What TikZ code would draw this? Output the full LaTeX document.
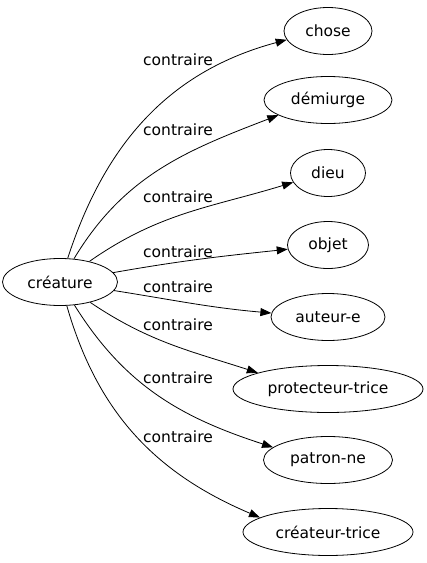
\documentclass[tikz,border=0pt]{standalone}
\usepackage{fontspec}
\setmainfont{DejaVu Sans}
\usepackage{tikz}
\usetikzlibrary{arrows.meta, shapes.geometric}

\begin{document}
\begin{tikzpicture}[
  x=1pt, y=1pt,
  mot/.style={ellipse, draw, line width=0.8pt, inner sep=0pt, minimum height=47pt, font=\fontsize{15.5}{18}\selectfont},
  lbl/.style={inner sep=0pt, font=\fontsize{15.5}{18}\selectfont},
  arrow/.style={-{Triangle[length=11pt, width=8pt]}, line width=0.8pt},
]
  \useasboundingbox (0,0) rectangle (427,-563);

  \node[mot, minimum width=115pt] (cre) at (60,-282) {créature};
  \node[mot, minimum width=88pt] (chose) at (328,-31) {chose};
  \node[mot, minimum width=128pt] (demi) at (328,-100) {démiurge};
  \node[mot, minimum width=75pt] (dieu) at (328,-173) {dieu};
  \node[mot, minimum width=81pt] (objet) at (328,-245) {objet};
  \node[mot, minimum width=114pt] (aut) at (328,-317) {auteur-e};
  \node[mot, minimum width=190pt] (prot) at (328,-389) {protecteur-trice};
  \node[mot, minimum width=129pt] (patr) at (328,-460) {patron-ne};
  \node[mot, minimum width=170pt] (creat) at (328,-532) {créateur-trice};

  % etiquettes des aretes
  \node[lbl] (l1) at (178,-60) {contraire};
  \node[lbl] (l2) at (178,-130) {contraire};
  \node[lbl] (l3) at (178,-197) {contraire};
  \node[lbl] (l4) at (178,-252) {contraire};
  \node[lbl] (l5) at (178,-287) {contraire};
  \node[lbl] (l6) at (178,-325) {contraire};
  \node[lbl] (l7) at (178,-378) {contraire};
  \node[lbl] (l8) at (178,-437) {contraire};

  \draw[arrow] (cre) to[out=72, in=195] (chose.192);
  \draw[arrow] (cre) to[out=59, in=201] (demi.197);
  \draw[arrow] (cre) to[out=35, in=197] (dieu.195);
  \draw[arrow] (cre) to[out=10, in=186] (objet);
  \draw[arrow] (cre) to[out=-9, in=175] (aut.176);
  \draw[arrow] (cre) to[out=-34, in=162] (prot.167);
  \draw[arrow] (cre) to[out=-58, in=162] (patr.167);
  \draw[arrow] (cre) to[out=-74, in=157] (creat.168);
\end{tikzpicture}
\end{document}
